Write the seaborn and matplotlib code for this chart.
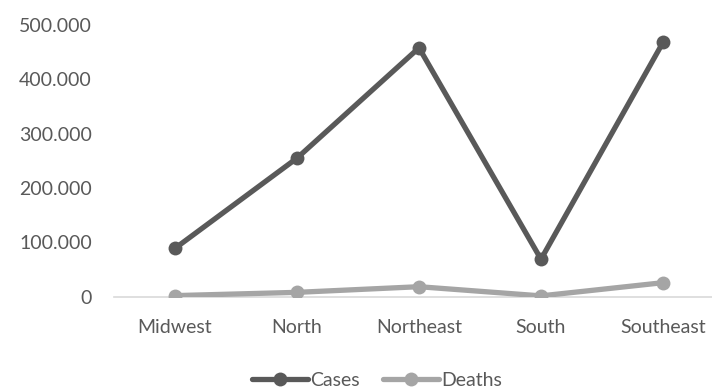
import matplotlib
matplotlib.use("Agg")
import matplotlib.pyplot as plt
import matplotlib.ticker as mticker
from matplotlib.lines import Line2D
import pandas as pd
import seaborn as sns

regions = ["Midwest", "North", "Northeast", "South", "Southeast"]
cases = [89000, 255000, 458000, 69000, 468000]
deaths = [2000, 8000, 18400, 1500, 25800]
series_names = ["Cases", "Deaths"]
y_ticks = [0, 100000, 200000, 300000, 400000, 500000]

colors = {"Cases": "#595959", "Deaths": "#a5a5a5"}

df = pd.DataFrame({
    "region": regions * 2,
    "value": cases + deaths,
    "series": [series_names[0]] * len(regions) + [series_names[1]] * len(regions),
})

sns.set_theme(style="white")
plt.rcParams["font.family"] = ["Lato", "DejaVu Sans"]

fig = plt.figure(figsize=(7.12, 3.90), dpi=100)
ax = fig.add_axes([114 / 712, 93.3 / 390, 610 / 712, 271.7 / 390])

sns.lineplot(data=df, x="region", y="value", hue="series", palette=colors,
             marker="o", markersize=10, markeredgewidth=0, linewidth=3.8,
             sort=False, legend=False, ax=ax, zorder=3)

ax.set_xlim(-0.5, len(regions) - 0.5)
ax.set_ylim(0, 500000)
ax.set_yticks(y_ticks)
ax.yaxis.set_major_formatter(mticker.FuncFormatter(lambda v, _: f"{int(v):,}".replace(",", ".")))
ax.set_xlabel("")
ax.set_ylabel("")

for s in ["top", "right", "left"]:
    ax.spines[s].set_visible(False)
ax.spines["bottom"].set_color("#d9d9d9")
ax.spines["bottom"].set_linewidth(1.2)
ax.spines["bottom"].set_zorder(1)

ax.tick_params(axis="y", length=0, pad=16, labelsize=14, labelcolor="#595959")
ax.tick_params(axis="x", length=0, pad=16, labelsize=14, labelcolor="#595959")

handles = [Line2D([0], [0], color=colors[n], marker="o", markersize=10,
                  markeredgewidth=0, linewidth=3.8) for n in series_names]
fig.legend(handles, series_names, loc="center", bbox_to_anchor=(377 / 712, 10 / 390),
           ncol=2, frameon=False, fontsize=14, labelcolor="#595959",
           handlelength=2.9, handletextpad=0.1, columnspacing=1.2)

fig.savefig("out.png", dpi=100)
